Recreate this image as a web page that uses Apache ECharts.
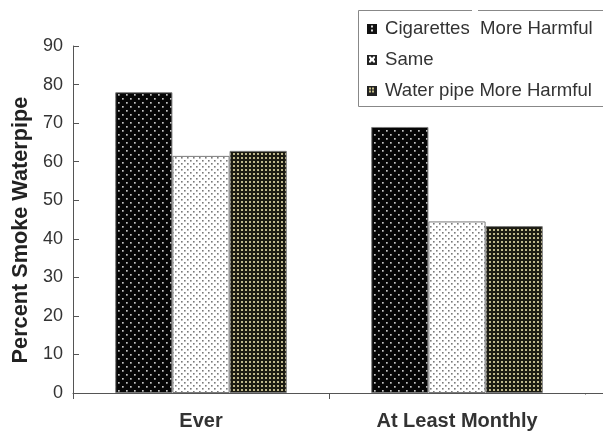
<!DOCTYPE html>
<html>
<head>
<meta charset="utf-8">
<script src="https://cdn.jsdelivr.net/npm/echarts@6/dist/echarts.min.js"></script>
<style>
  html, body { margin: 0; padding: 0; background: #fff; }
  #chart { width: 603px; height: 431px; }
</style>
</head>
<body>
<div id="chart"></div>
<script>
// Survey groups and the share who smoke waterpipe, by perceived harm
const categories = ['Ever', 'At Least Monthly'];
const seriesNames = ['Cigarettes  More Harmful', 'Same', 'Water pipe More Harmful'];
const cigarettesMoreHarmful = [78, 69];
const same = [61.5, 44.5];
const waterpipeMoreHarmful = [62.8, 43.3];
const yTicks = [0, 10, 20, 30, 40, 50, 60, 70, 80, 90];

// Tiled fills drawn on small canvases
function tile(w, h, bg, dots, dotColor, size) {
  const c = document.createElement('canvas');
  c.width = w; c.height = h;
  const g = c.getContext('2d');
  g.fillStyle = bg; g.fillRect(0, 0, w, h);
  g.fillStyle = dotColor;
  dots.forEach(([x, y]) => g.fillRect(x, y, size, size));
  return c;
}
const blackDots = tile(8, 8, '#050505', [[2, 2], [6, 6]], '#c4c4c4', 1.7);
const whiteDots = tile(6, 6, '#ffffff', [[1, 1], [4, 4]], '#7a7a7a', 1.6);
const oliveGrid = tile(4, 4, '#1c1b12', [[1, 1]], '#bdb68a', 2);

// Legend swatches
function swatch(draw) {
  const c = document.createElement('canvas');
  c.width = 10; c.height = 10;
  draw(c.getContext('2d'));
  return 'image://' + c.toDataURL();
}
const swatches = [
  swatch(g => { g.fillStyle = '#111'; g.fillRect(0, 0, 10, 10); g.fillStyle = '#ddd'; g.fillRect(4, 2, 2, 2); g.fillRect(4, 6, 2, 2); }),
  swatch(g => { g.fillStyle = '#222'; g.fillRect(0, 0, 10, 10); g.fillStyle = '#fff'; g.fillRect(2, 2, 6, 6); g.fillStyle = '#222'; g.fillRect(4, 2, 2, 1); g.fillRect(4, 7, 2, 1); g.fillRect(2, 4, 1, 2); g.fillRect(7, 4, 1, 2); }),
  swatch(g => { g.fillStyle = '#222'; g.fillRect(0, 0, 10, 10); g.fillStyle = '#c9c08a'; [[2, 2], [5, 2], [2, 5], [5, 5]].forEach(([x, y]) => g.fillRect(x, y, 2, 2)); })
];

const fills = [blackDots, whiteDots, oliveGrid];
const values = [cigarettesMoreHarmful, same, waterpipeMoreHarmful];

const chart = echarts.init(document.getElementById('chart'), null, { renderer: 'canvas' });
chart.setOption({
  animation: false,
  backgroundColor: '#fff',
  textStyle: { fontFamily: 'Liberation Sans, Arial, sans-serif' },
  grid: { left: 73, right: 18, top: 46, bottom: 38 },
  legend: {
    orient: 'vertical',
    left: 367, top: 19, padding: 0,
    itemWidth: 10, itemHeight: 10, itemGap: 12,
    textStyle: { fontSize: 18.6, lineHeight: 19, color: '#333', padding: [0, 0, 0, 3] },
    data: seriesNames.map((n, i) => ({ name: n, icon: swatches[i] }))
  },
  xAxis: {
    type: 'category',
    data: categories,
    axisLine: { lineStyle: { color: '#555', width: 1 } },
    axisTick: { show: true, length: 6, lineStyle: { color: '#555' } },
    axisLabel: { fontSize: 20, fontWeight: 'bold', color: '#333', margin: 18 }
  },
  yAxis: {
    type: 'value',
    min: 0, max: 90, interval: 10,
    axisLine: { show: true, lineStyle: { color: '#555', width: 1 } },
    axisTick: { show: true, inside: true, length: 6, lineStyle: { color: '#555' } },
    axisLabel: { fontSize: 18, color: '#333', margin: 10,
      formatter: v => yTicks.includes(v) ? String(v) : '' },
    splitLine: { show: false }
  },
  series: seriesNames.map((n, i) => ({
    name: n,
    type: 'bar',
    data: values[i],
    barGap: '0%',
    barCategoryGap: '33%',
    itemStyle: {
      color: { image: fills[i], repeat: 'repeat' },
      borderColor: '#7a7a7a', borderWidth: 1
    }
  })),
  graphic: [
    { type: 'text', x: 21, y: 230, rotation: Math.PI / 2,
      style: { text: 'Percent Smoke Waterpipe', font: 'bold 21.7px "Liberation Sans", Arial, sans-serif',
        fill: '#222', align: 'center', verticalAlign: 'middle' } },
    { type: 'rect', shape: { x: 358.5, y: 10.5, width: 300, height: 96 },
      style: { fill: 'none', stroke: '#888', lineWidth: 1 }, z: -1 },
    { type: 'line', shape: { x1: 472, y1: 10.5, x2: 478, y2: 10.5 },
      style: { stroke: '#fff', lineWidth: 2 } },
    // axis line runs on past the last category to the page edge, with no end tick
    { type: 'rect', shape: { x: 582, y: 394.5, width: 8, height: 9 },
      style: { fill: '#fff' }, z: 100 },
    { type: 'line', shape: { x1: 585, y1: 393.5, x2: 603, y2: 393.5 },
      style: { stroke: '#555', lineWidth: 1 }, z: 100 }
  ]
});
</script>
</body>
</html>
